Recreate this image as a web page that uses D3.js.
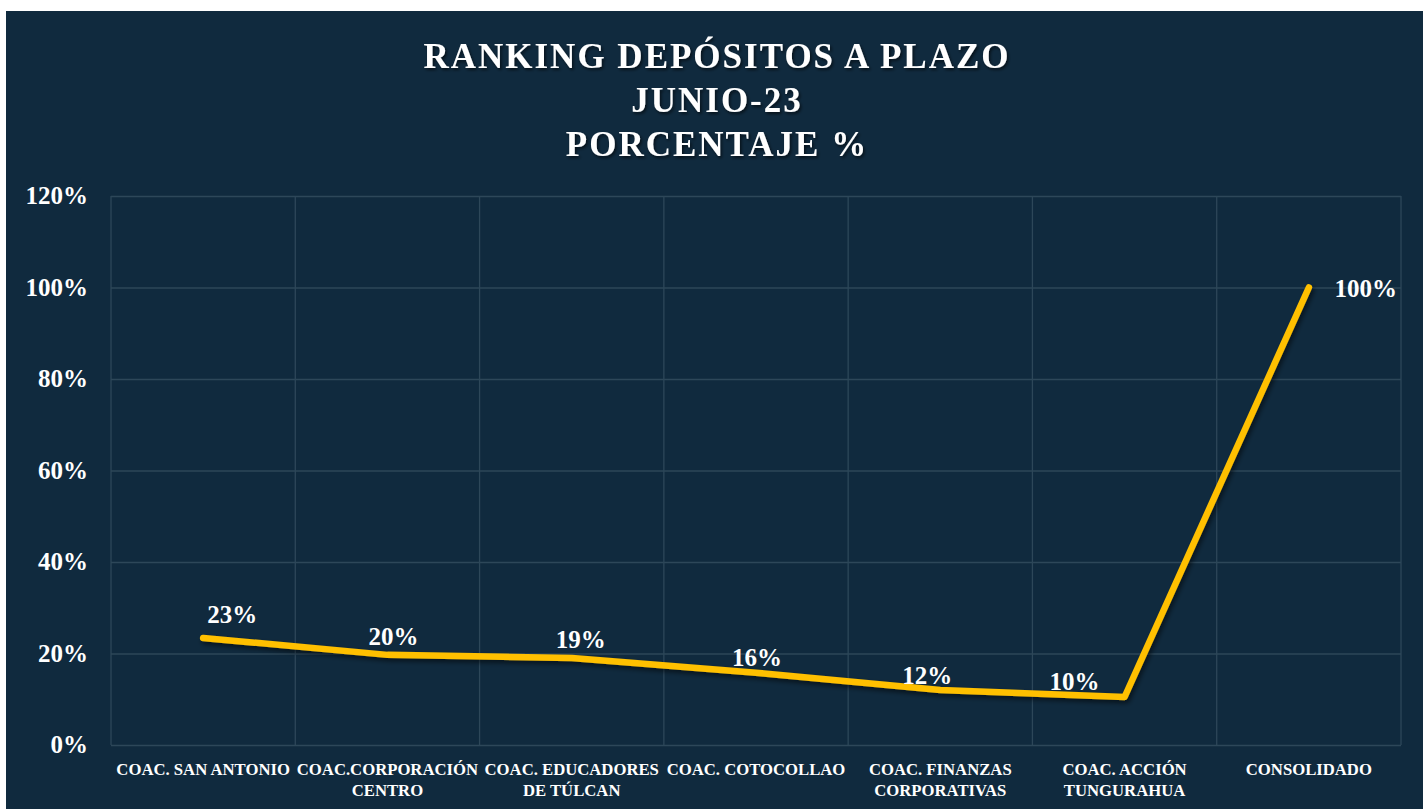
<!DOCTYPE html>
<meta charset="utf-8">
<style>
  body { margin: 0; background: #fff; }
  text { font-family: "Liberation Serif", "DejaVu Serif", serif; font-weight: bold; fill: #fff; }
</style>
<script src="https://cdn.jsdelivr.net/npm/d3@7"></script>
<div id="chart"></div>
<script>
// data
var categories = [
  "COAC. SAN ANTONIO",
  "COAC.CORPORACIÓN|CENTRO",
  "COAC. EDUCADORES|DE TÚLCAN",
  "COAC. COTOCOLLAO",
  "COAC. FINANZAS|CORPORATIVAS",
  "COAC. ACCIÓN|TUNGURAHUA",
  "CONSOLIDADO"
];
var values = [23.4, 19.7, 19.0, 15.8, 12.0, 10.5, 100];
var valueLabels = ["23%", "20%", "19%", "16%", "12%", "10%", "100%"];
var yTicks = [0, 20, 40, 60, 80, 100, 120];
var titleLines = ["RANKING DEPÓSITOS A PLAZO", "JUNIO-23", "PORCENTAJE %"];

var W = 1423, H = 809;
var plot = {left: 111, right: 1401, top: 196, bottom: 745};

var svg = d3.select("#chart").append("svg")
    .attr("width", W)
    .attr("height", H);

var defs = svg.append("defs");
var sh = defs.append("filter").attr("id", "shadow")
    .attr("x", "-10%").attr("y", "-10%").attr("width", "120%").attr("height", "130%");
sh.append("feDropShadow")
    .attr("dx", 2).attr("dy", 3).attr("stdDeviation", 2.5)
    .attr("flood-color", "#000").attr("flood-opacity", 0.55);
var tsh = defs.append("filter").attr("id", "tshadow");
tsh.append("feDropShadow")
    .attr("dx", 1.5).attr("dy", 2).attr("stdDeviation", 1.5)
    .attr("flood-color", "#000").attr("flood-opacity", 0.6);

// background
svg.append("rect")
    .attr("x", 6).attr("y", 11)
    .attr("width", W - 6).attr("height", H - 11)
    .attr("fill", "#102a3e");

// title
svg.append("g").selectAll("text")
  .data(titleLines)
  .enter().append("text")
    .attr("x", 717)
    .attr("y", function(d, i) { return 68 + i * 44; })
    .attr("text-anchor", "middle")
    .attr("font-size", 35)
    .attr("letter-spacing", 2)
    .attr("filter", "url(#tshadow)")
    .text(function(d) { return d; });

var x = d3.scaleBand()
    .domain(categories)
    .range([plot.left, plot.right]);

var y = d3.scaleLinear()
    .domain([0, 120])
    .range([plot.bottom, plot.top]);

var gridColor = "#2d4759";

// horizontal grid + y labels
var yAxis = svg.append("g")
    .attr("transform", "translate(" + plot.left + ",0)")
    .call(d3.axisLeft(y).tickValues(yTicks)
      .tickSize(-(plot.right - plot.left))
      .tickPadding(23)
      .tickFormat(function(d) { return d + "%"; }));
yAxis.select(".domain").remove();
yAxis.selectAll(".tick line").attr("stroke", gridColor).attr("stroke-width", 1.3);
yAxis.selectAll(".tick text")
    .attr("font-size", 25)
    .attr("fill", "#fff")
    .attr("font-family", "Liberation Serif, serif")
    .attr("dy", "0.3em");

// vertical grid at category boundaries
var bounds = categories.map(function(c) { return x(c); }).concat([plot.right]);
svg.append("g").selectAll("line")
  .data(bounds)
  .enter().append("line")
    .attr("x1", function(d) { return d; })
    .attr("x2", function(d) { return d; })
    .attr("y1", plot.top)
    .attr("y2", plot.bottom)
    .attr("stroke", gridColor)
    .attr("stroke-width", 1.3);

// x labels
var xl = svg.append("g").selectAll("text")
  .data(categories)
  .enter().append("text")
    .attr("text-anchor", "middle")
    .attr("font-size", 16.7)
    .attr("y", 775);
xl.each(function(d) {
  var t = d3.select(this);
  var cx = x(d) + x.bandwidth() / 2;
  d.split("|").forEach(function(line, i) {
    t.append("tspan")
      .attr("x", cx)
      .attr("dy", i === 0 ? 0 : 21)
      .text(line);
  });
});

// line
var pts = values.map(function(v, i) { return [x(categories[i]) + x.bandwidth() / 2, y(v)]; });
svg.append("path")
    .datum(pts)
    .attr("fill", "none")
    .attr("stroke", "#FFC000")
    .attr("stroke-width", 6.5)
    .attr("stroke-linecap", "round")
    .attr("stroke-linejoin", "round")
    .attr("filter", "url(#shadow)")
    .attr("d", d3.line());

// data labels (nudged like the original)
var labelDx = [29, 6, 9, 1, -13, -50, 57];
var labelDy = [-15, -10, -10, -7, -6, -7, 9];
svg.append("g").selectAll("text")
  .data(valueLabels)
  .enter().append("text")
    .attr("x", function(d, i) { return pts[i][0] + labelDx[i]; })
    .attr("y", function(d, i) { return pts[i][1] + labelDy[i]; })
    .attr("text-anchor", "middle")
    .attr("font-size", 25)
    .text(function(d) { return d; });
</script>
